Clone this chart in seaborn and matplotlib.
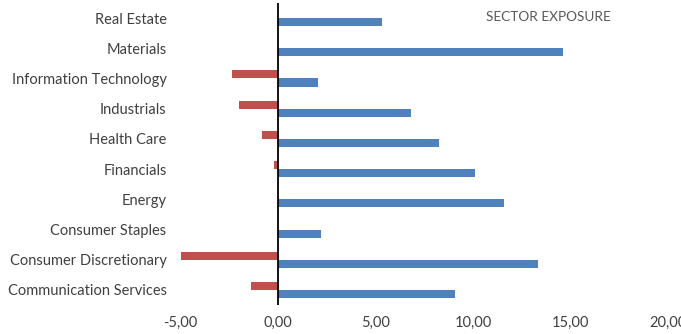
import matplotlib
matplotlib.use("Agg")
import matplotlib.pyplot as plt
import matplotlib.ticker as mticker
import seaborn as sns
import pandas as pd

# Sector exposure, top to bottom
sectors = [
    "Real Estate",
    "Materials",
    "Information Technology",
    "Industrials",
    "Health Care",
    "Financials",
    "Energy",
    "Consumer Staples",
    "Consumer Discretionary",
    "Communication Services",
]
long_exposure = [5.35, 14.63, 2.07, 6.80, 8.27, 10.10, 11.61, 2.19, 13.35, 9.08]
short_exposure = [0.0, 0.0, -2.34, -2.00, -0.82, -0.22, 0.0, 0.0, -5.03, -1.38]
x_ticks = [-5, 0, 5, 10, 15, 20]

df = pd.concat([
    pd.DataFrame({"sector": sectors, "exposure": short_exposure, "side": "Short"}),
    pd.DataFrame({"sector": sectors, "exposure": long_exposure, "side": "Long"}),
])

sns.set_theme(style="white")
plt.rcParams["font.family"] = ["Lato", "DejaVu Sans"]
text_color = "#404040"

fig = plt.figure(figsize=(6.81, 3.34), dpi=100)
ax = fig.add_axes([180.5 / 681, 1 - 305 / 334, (668 - 180.5) / 681, (305 - 3) / 334])

sns.barplot(
    data=df, y="sector", x="exposure", hue="side", order=sectors,
    hue_order=["Short", "Long"], palette={"Short": "#C0504D", "Long": "#4F81BD"},
    saturation=1, orient="h", width=0.54, gap=0, linewidth=0, legend=False, ax=ax,
)

ax.set_xlim(-5, 20)
ax.set_ylim(len(sectors) - 0.5, -0.5)
ax.axvline(0, color="black", lw=1.3, zorder=5)

for s in ax.spines.values():
    s.set_visible(False)

ax.set_xticks(x_ticks)
ax.xaxis.set_major_formatter(mticker.FuncFormatter(lambda v, p: f"{v:.2f}".replace(".", ",")))
ax.tick_params(axis="both", length=0, colors=text_color, labelsize=10.5)
ax.tick_params(axis="x", pad=8)
ax.tick_params(axis="y", pad=10)
ax.set_xlabel("")
ax.set_ylabel("")
ax.grid(False)

ax.text(0.754, 0.954, "SECTOR EXPOSURE", transform=ax.transAxes, ha="center", va="center",
        fontsize=9.8, color="#595959")

fig.savefig("out.png", dpi=100)
